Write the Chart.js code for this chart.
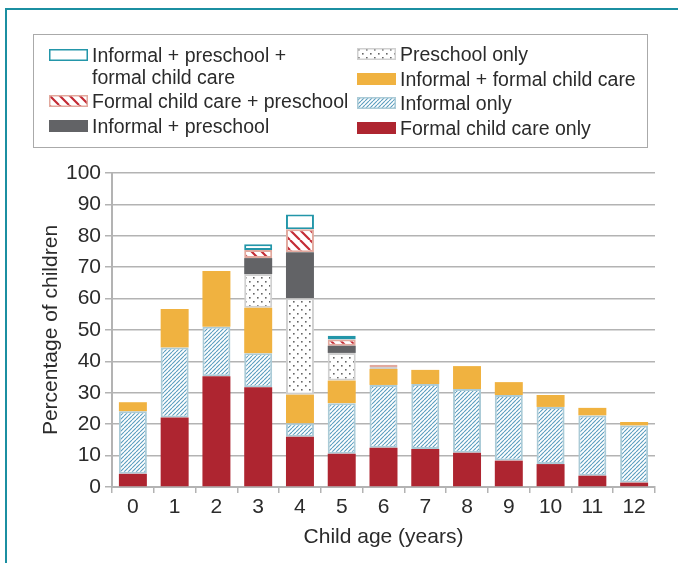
<!DOCTYPE html>
<html>
<head>
<meta charset="utf-8">
<script src="https://cdn.jsdelivr.net/npm/chart.js@4.4.0/dist/chart.umd.min.js"></script>
<style>
  body { margin: 0; background: #fff; font-family: "Liberation Sans", Arial, sans-serif; color: #2b2b2b; }
  #wrap { position: relative; width: 678px; height: 563px; overflow: hidden; }
  #frame { position: absolute; left: 5px; top: 8px; right: -10px; bottom: -10px;
           border-top: 2.5px solid #1b8fa1; border-left: 2.5px solid #1b8fa1; }
  #chart { position: absolute; left: 0; top: 0; }
  #legend { position: absolute; left: 33px; top: 34px; width: 613px; height: 112px; border: 1.5px solid #aaa; }
  .col { position: absolute; }
  .item { display: flex; align-items: flex-start; font-size: 19.5px; line-height: 24.7px; white-space: nowrap; }
  .item canvas { margin-top: 6px; margin-right: 4px; flex: none; }
  .item.wrap { line-height: 22px; white-space: normal; }
  .item.wrap canvas { margin-top: 5px; }
</style>
</head>
<body>
<div id="wrap">
  <div id="frame"></div>
  <canvas id="chart" width="678" height="563"></canvas>
  <div id="legend">
    <div class="col" id="colL" style="left:15px; top:8.5px"></div>
    <div class="col" id="colR" style="left:323px; top:7px"></div>
  </div>
</div>
<script>
/* =======================
   DATA
======================= */
const ages = ['0', '1', '2', '3', '4', '5', '6', '7', '8', '9', '10', '11', '12'];

const formalOnly        = [4.2, 22.1, 35.3, 31.8, 16.0, 10.6, 12.5, 12.1, 10.9, 8.4, 7.3, 3.6, 1.4];
const informalOnly      = [19.9, 22.3, 15.7, 10.8, 4.3, 16.1, 20.0, 20.7, 20.3, 20.9, 18.2, 19.2, 18.2];
const informalFormal    = [2.9, 12.3, 17.8, 14.5, 9.1, 7.2, 5.1, 4.5, 7.3, 4.1, 3.8, 2.4, 1.1];
const preschoolOnly     = [null, null, null, 10.7, 30.7, 8.8, 0.6, null, null, null, null, null, null];
const informalPreschool = [null, null, null, 5.1, 14.7, 2.3, null, null, null, null, null, null, null];
const formalPreschool   = [null, null, null, 2.6, 7.3, 2.0, 0.7, null, null, null, null, null, null];
const allThree          = [null, null, null, 1.8, 4.7, 1.2, null, null, null, null, null, null, null];

const yTicks = [0, 10, 20, 30, 40, 50, 60, 70, 80, 90, 100];

/* =======================
   PATTERNS
======================= */
function tile(size) {
  const c = document.createElement('canvas');
  c.width = c.height = size;
  const ctx = c.getContext('2d');
  ctx.fillStyle = '#fff';
  ctx.fillRect(0, 0, size, size);
  return [c, ctx];
}

function hatch(color, width, gap, forward) {
  const [c, ctx] = tile(gap);
  ctx.strokeStyle = color;
  ctx.lineWidth = width;
  ctx.beginPath();
  for (let k = -1; k <= 1; k++) {
    if (forward) { ctx.moveTo(k * gap, gap); ctx.lineTo(k * gap + gap, 0); }
    else { ctx.moveTo(k * gap, 0); ctx.lineTo(k * gap + gap, gap); }
  }
  ctx.stroke();
  return ctx.createPattern(c, 'repeat');
}

function dots() {
  const [c, ctx] = tile(8);
  ctx.fillStyle = '#666';
  ctx.fillRect(1, 1, 1.6, 1.6);
  ctx.fillRect(5, 5, 1.6, 1.6);
  return ctx.createPattern(c, 'repeat');
}

const blueHatch = hatch('#5a9dbe', 1.1, 4, true);
const redHatch = hatch('#c42c36', 2.2, 10, false);
const dotFill = dots();

/* =======================
   SERIES (bottom -> top)
======================= */
const series = [
  { label: 'Formal child care only', data: formalOnly, fill: '#ae2530', border: null },
  { label: 'Informal only', data: informalOnly, fill: blueHatch, border: '#abcbd7' },
  { label: 'Informal + formal child care', data: informalFormal, fill: '#f0b240', border: null },
  { label: 'Preschool only', data: preschoolOnly, fill: dotFill, border: '#d0d0d0' },
  { label: 'Informal + preschool', data: informalPreschool, fill: '#626366', border: null },
  { label: 'Formal child care + preschool', data: formalPreschool, fill: redHatch, border: '#e2a99e' },
  { label: 'Informal + preschool + formal child care', data: allThree, fill: '#fff', border: '#2396a9' }
];

/* =======================
   LEGEND (HTML)
======================= */
function swatch(s) {
  const c = document.createElement('canvas');
  c.width = 39; c.height = 12;
  const ctx = c.getContext('2d');
  ctx.fillStyle = s.fill;
  ctx.fillRect(0, 0, 39, 12);
  if (s.border) {
    ctx.strokeStyle = s.border;
    ctx.lineWidth = 1.5;
    ctx.strokeRect(0.75, 0.75, 37.5, 10.5);
  }
  return c;
}

function addItem(col, s, text, extra) {
  const d = document.createElement('div');
  d.className = 'item' + (extra ? ' ' + extra : '');
  d.appendChild(swatch(s));
  const t = document.createElement('span');
  t.innerHTML = text;
  d.appendChild(t);
  document.getElementById(col).appendChild(d);
  return d;
}

addItem('colL', series[6], 'Informal + preschool +<br>formal child care', 'wrap');
addItem('colL', series[5], series[5].label).style.marginTop = '1.6px';
addItem('colL', series[4], series[4].label);
addItem('colR', series[3], series[3].label);
addItem('colR', series[2], series[2].label);
addItem('colR', series[1], series[1].label);
addItem('colR', series[0], series[0].label);

/* =======================
   CHART
======================= */
Chart.defaults.font.family = '"Liberation Sans", Arial, sans-serif';
Chart.defaults.color = '#2b2b2b';

const gridColor = '#b3b3b3';

new Chart(document.getElementById('chart'), {
  type: 'bar',
  data: {
    labels: ages,
    datasets: series.map(s => ({
      label: s.label,
      data: s.data,
      backgroundColor: s.fill,
      borderColor: s.border || 'rgba(0,0,0,0)',
      borderWidth: s.border ? 2 : 0,
      borderSkipped: false,
      categoryPercentage: 1,
      barPercentage: 0.67
    }))
  },
  options: {
    responsive: false,
    animation: false,
    layout: { padding: { left: 0, right: 23, top: 173, bottom: 0 } },
    plugins: { legend: { display: false }, tooltip: { enabled: false } },
    scales: {
      x: {
        stacked: true,
        grid: { display: true, drawOnChartArea: false, drawTicks: true, tickLength: 6, offset: true, color: gridColor, lineWidth: 1.5 },
        border: { display: true, color: gridColor, width: 2 },
        ticks: { font: { size: 21 }, padding: 2 },
        title: { display: true, text: 'Child age (years)', font: { size: 21 }, padding: { top: 0, bottom: 13 } },
        afterFit: s => { s.height = 76; }
      },
      y: {
        stacked: true,
        min: 0,
        max: 100,
        afterBuildTicks: s => { s.ticks = yTicks.map(v => ({ value: v })); },
        grid: { color: gridColor, lineWidth: 1.5, tickLength: 7 },
        border: { display: true, color: gridColor, width: 2 },
        ticks: { font: { size: 21 }, padding: 4 },
        title: { display: true, text: 'Percentage of children', font: { size: 21 }, padding: { top: 39, bottom: 0 } },
        afterFit: s => { s.width = 112; }
      }
    }
  }
});
</script>
</body>
</html>
